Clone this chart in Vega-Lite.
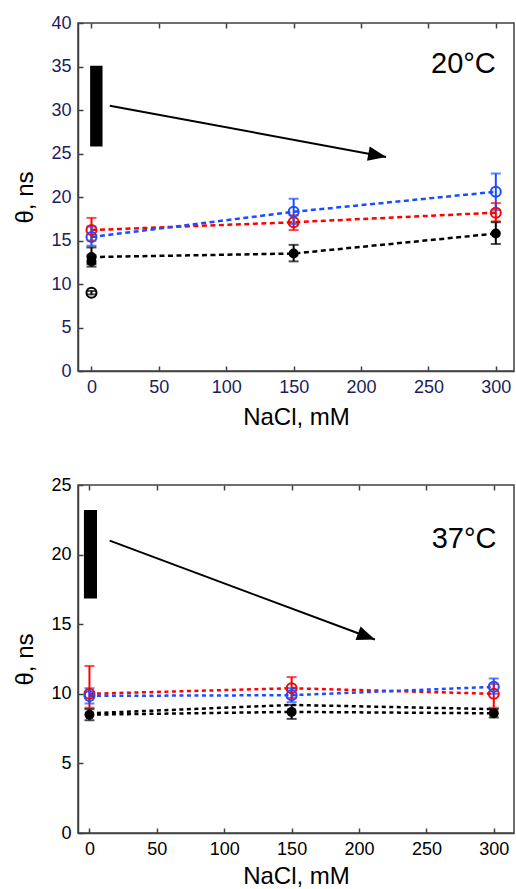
{
  "$schema": "https://vega.github.io/schema/vega-lite/v6.json",
  "padding": {"left": 13, "top": 13, "right": 0, "bottom": 0},
  "background": "white",
  "spacing": 45,
  "config": {
    "font": "Liberation Sans",
    "view": {"stroke": "#404040", "strokeWidth": 1.5},
    "axis": {
      "grid": false, "domainColor": "#404040", "domainWidth": 1.5,
      "tickColor": "#404040", "tickWidth": 1.5, "tickSize": -5,
      "labelFontSize": 18, "labelFont": "Liberation Sans",
      "titleFontSize": 24, "titleFont": "Liberation Sans", "titleFontWeight": "normal", "titleColor": "black"
    }
  },
  "datasets": {
    "top": [
      {"series": "red", "x": 0, "y": 16.2, "lo": 15.0, "hi": 17.6, "line": true, "marker": "open"},
      {"series": "red", "x": 150, "y": 17.1, "lo": 16.2, "hi": 17.9, "line": true, "marker": "open"},
      {"series": "red", "x": 300, "y": 18.2, "lo": 17.2, "hi": 19.3, "line": true, "marker": "open"},
      {"series": "blue", "x": 0, "y": 15.4, "lo": 14.4, "hi": 16.6, "line": true, "marker": "open"},
      {"series": "blue", "x": 150, "y": 18.3, "lo": 16.9, "hi": 19.8, "line": true, "marker": "open"},
      {"series": "blue", "x": 300, "y": 20.6, "lo": 18.5, "hi": 22.7, "line": true, "marker": "open"},
      {"series": "black", "x": 0, "y": 13.1, "lo": 12.3, "hi": 14.2, "line": true, "marker": "filled"},
      {"series": "black", "x": 150, "y": 13.5, "lo": 12.6, "hi": 14.5, "line": true, "marker": "filled"},
      {"series": "black", "x": 300, "y": 15.8, "lo": 14.6, "hi": 17.1, "line": true, "marker": "filled"},
      {"series": "black", "x": 0, "y": 12.6, "lo": 12.0, "hi": 13.3, "line": false, "marker": "filled"},
      {"series": "black", "x": 0, "y": 9.0, "lo": 8.8, "hi": 9.2, "line": false, "marker": "open"}
    ],
    "bottom": [
      {"series": "red", "x": 0, "y": 10.0, "lo": 9.0, "hi": 12.0, "line": true, "marker": "open"},
      {"series": "red", "x": 150, "y": 10.4, "lo": 9.7, "hi": 11.2, "line": true, "marker": "open"},
      {"series": "red", "x": 300, "y": 10.0, "lo": 9.0, "hi": 10.7, "line": true, "marker": "open"},
      {"series": "blue", "x": 0, "y": 9.85, "lo": 9.3, "hi": 10.4, "line": true, "marker": "open"},
      {"series": "blue", "x": 150, "y": 9.9, "lo": 9.4, "hi": 10.4, "line": true, "marker": "open"},
      {"series": "blue", "x": 300, "y": 10.5, "lo": 10.0, "hi": 11.1, "line": true, "marker": "open"},
      {"series": "black", "x": 0, "y": 8.5, "lo": 8.1, "hi": 8.9, "line": true, "marker": "filled"},
      {"series": "black", "x": 150, "y": 8.7, "lo": 8.2, "hi": 9.2, "line": true, "marker": "filled"},
      {"series": "black", "x": 300, "y": 8.6, "lo": 8.3, "hi": 8.9, "line": true, "marker": "filled"},
      {"series": "black2", "x": 0, "y": 8.6, "lo": null, "hi": null, "line": true, "marker": "none"},
      {"series": "black2", "x": 150, "y": 9.2, "lo": null, "hi": null, "line": true, "marker": "none"},
      {"series": "black2", "x": 300, "y": 8.9, "lo": null, "hi": null, "line": true, "marker": "none"}
    ],
    "topBar": [{"x": -1, "x2": 8.2, "y": 25.8, "y2": 35.1}],
    "topArrow": [{"x": 13.6, "y": 30.5, "end": false}, {"x": 218.6, "y": 24.6, "end": true}],
    "topText": [{"x": 300, "y": 34.3, "label": "20°C"}],
    "bottomBar": [{"x": -4.1, "x2": 5.6, "y": 16.85, "y2": 23.2}],
    "bottomArrow": [{"x": 15.0, "y": 21.0, "end": false}, {"x": 211.8, "y": 13.9, "end": true}],
    "bottomText": [{"x": 302, "y": 20.5, "label": "37°C"}]
  },
  "vconcat": [
    {
      "width": 436, "height": 348,
      "resolve": {"axis": {"x": "independent"}},
      "layer": [
        {
          "layer": [
            {
              "data": {"name": "top"},
              "transform": [{"filter": "datum.line"}],
              "mark": {"type": "line", "strokeDash": [5, 3.5], "strokeWidth": 2.5},
              "encoding": {
                "x": {"field": "x", "type": "quantitative", "scale": {"domain": [-10, 313.5], "nice": false, "zero": false},
                  "axis": {"title": "NaCl, mM", "values": [0, 50, 100, 150, 200, 250, 300], "labelColor": "#1c1c5c", "labelPadding": 12, "titlePadding": 9}},
                "y": {"field": "y", "type": "quantitative", "scale": {"domain": [0, 40], "nice": false},
                  "axis": {"title": "θ, ns", "values": [0, 5, 10, 15, 20, 25, 30, 35, 40], "labelColor": "#1c1c5c", "labelPadding": 12, "titlePadding": 13}},
                "color": {"field": "series", "type": "nominal", "legend": null,
                  "scale": {"domain": ["red", "blue", "black", "black2"], "range": ["#ff0000", "#1a4dff", "#000000", "#000000"]}},
                "order": {"field": "x", "type": "quantitative"}
              }
            },
            {
              "data": {"name": "top"},
              "mark": {"type": "rule", "strokeWidth": 2},
              "encoding": {
                "x": {"field": "x", "type": "quantitative"},
                "y": {"field": "lo", "type": "quantitative"},
                "y2": {"field": "hi"},
                "color": {"field": "series", "type": "nominal", "legend": null}
              }
            },
            {
              "data": {"name": "top"},
              "mark": {"type": "tick", "orient": "horizontal", "size": 10, "thickness": 2},
              "encoding": {
                "x": {"field": "x", "type": "quantitative"},
                "y": {"field": "lo", "type": "quantitative"},
                "color": {"field": "series", "type": "nominal", "legend": null}
              }
            },
            {
              "data": {"name": "top"},
              "mark": {"type": "tick", "orient": "horizontal", "size": 10, "thickness": 2},
              "encoding": {
                "x": {"field": "x", "type": "quantitative"},
                "y": {"field": "hi", "type": "quantitative"},
                "color": {"field": "series", "type": "nominal", "legend": null}
              }
            },
            {
              "data": {"name": "top"},
              "transform": [{"filter": "datum.marker == 'open'"}],
              "mark": {"type": "point", "shape": "circle", "filled": false, "size": 100, "strokeWidth": 2, "opacity": 1},
              "encoding": {
                "x": {"field": "x", "type": "quantitative"},
                "y": {"field": "y", "type": "quantitative"},
                "color": {"field": "series", "type": "nominal", "legend": null}
              }
            },
            {
              "data": {"name": "top"},
              "transform": [{"filter": "datum.marker == 'filled'"}],
              "mark": {"type": "point", "shape": "circle", "filled": true, "size": 100, "opacity": 1},
              "encoding": {
                "x": {"field": "x", "type": "quantitative"},
                "y": {"field": "y", "type": "quantitative"},
                "color": {"field": "series", "type": "nominal", "legend": null}
              }
            },
            {
              "data": {"name": "topBar"},
              "mark": {"type": "rect", "color": "black"},
              "encoding": {
                "x": {"field": "x", "type": "quantitative"},
                "x2": {"field": "x2"},
                "y": {"field": "y", "type": "quantitative"},
                "y2": {"field": "y2"}
              }
            },
            {
              "data": {"name": "topArrow"},
              "mark": {"type": "line", "color": "black", "strokeWidth": 2},
              "encoding": {
                "x": {"field": "x", "type": "quantitative"},
                "y": {"field": "y", "type": "quantitative"}
              }
            },
            {
              "data": {"name": "topArrow"},
              "transform": [{"filter": "datum.end"}],
              "mark": {"type": "point", "shape": "M0,0L-2,-0.8L-2,0.8Z", "size": 324, "angle": 10.7, "filled": true, "color": "black", "opacity": 1},
              "encoding": {
                "x": {"field": "x", "type": "quantitative"},
                "y": {"field": "y", "type": "quantitative"}
              }
            }
          ]
        },
        {
          "data": {"name": "topText"},
          "mark": {"type": "text", "align": "right", "baseline": "alphabetic", "fontSize": 29, "font": "Liberation Sans", "color": "black"},
          "encoding": {
            "x": {"field": "x", "type": "quantitative", "axis": {"orient": "top", "labels": false, "domain": false, "title": null, "values": [0, 50, 100, 150, 200, 250, 300]}},
            "y": {"field": "y", "type": "quantitative"},
            "text": {"field": "label"}
          }
        }
      ]
    },
    {
      "width": 436, "height": 348,
      "resolve": {"axis": {"x": "independent"}},
      "layer": [
        {
          "layer": [
            {
              "data": {"name": "bottom"},
              "transform": [{"filter": "datum.line"}],
              "mark": {"type": "line", "strokeDash": [4, 3.5], "strokeWidth": 2.5},
              "encoding": {
                "x": {"field": "x", "type": "quantitative", "scale": {"domain": [-8.5, 315], "nice": false, "zero": false},
                  "axis": {"title": "NaCl, mM", "values": [0, 50, 100, 150, 200, 250, 300], "labelColor": "black", "labelPadding": 12, "titlePadding": 6}},
                "y": {"field": "y", "type": "quantitative", "scale": {"domain": [0, 25], "nice": false},
                  "axis": {"title": "θ, ns", "values": [0, 5, 10, 15, 20, 25], "labelColor": "black", "labelPadding": 12, "titlePadding": 13}},
                "color": {"field": "series", "type": "nominal", "legend": null,
                  "scale": {"domain": ["red", "blue", "black", "black2"], "range": ["#ff0000", "#1a4dff", "#000000", "#000000"]}},
                "detail": {"field": "series"},
                "order": {"field": "x", "type": "quantitative"}
              }
            },
            {
              "data": {"name": "bottom"},
              "transform": [{"filter": "datum.lo != null"}],
              "mark": {"type": "rule", "strokeWidth": 2},
              "encoding": {
                "x": {"field": "x", "type": "quantitative"},
                "y": {"field": "lo", "type": "quantitative"},
                "y2": {"field": "hi"},
                "color": {"field": "series", "type": "nominal", "legend": null}
              }
            },
            {
              "data": {"name": "bottom"},
              "transform": [{"filter": "datum.lo != null"}],
              "mark": {"type": "tick", "orient": "horizontal", "size": 10, "thickness": 2},
              "encoding": {
                "x": {"field": "x", "type": "quantitative"},
                "y": {"field": "lo", "type": "quantitative"},
                "color": {"field": "series", "type": "nominal", "legend": null}
              }
            },
            {
              "data": {"name": "bottom"},
              "transform": [{"filter": "datum.hi != null"}],
              "mark": {"type": "tick", "orient": "horizontal", "size": 10, "thickness": 2},
              "encoding": {
                "x": {"field": "x", "type": "quantitative"},
                "y": {"field": "hi", "type": "quantitative"},
                "color": {"field": "series", "type": "nominal", "legend": null}
              }
            },
            {
              "data": {"name": "bottom"},
              "transform": [{"filter": "datum.marker == 'open'"}],
              "mark": {"type": "point", "shape": "circle", "filled": false, "size": 100, "strokeWidth": 2, "opacity": 1},
              "encoding": {
                "x": {"field": "x", "type": "quantitative"},
                "y": {"field": "y", "type": "quantitative"},
                "color": {"field": "series", "type": "nominal", "legend": null}
              }
            },
            {
              "data": {"name": "bottom"},
              "transform": [{"filter": "datum.marker == 'filled'"}],
              "mark": {"type": "point", "shape": "circle", "filled": true, "size": 100, "opacity": 1},
              "encoding": {
                "x": {"field": "x", "type": "quantitative"},
                "y": {"field": "y", "type": "quantitative"},
                "color": {"field": "series", "type": "nominal", "legend": null}
              }
            },
            {
              "data": {"name": "bottomBar"},
              "mark": {"type": "rect", "color": "black"},
              "encoding": {
                "x": {"field": "x", "type": "quantitative"},
                "x2": {"field": "x2"},
                "y": {"field": "y", "type": "quantitative"},
                "y2": {"field": "y2"}
              }
            },
            {
              "data": {"name": "bottomArrow"},
              "mark": {"type": "line", "color": "black", "strokeWidth": 2},
              "encoding": {
                "x": {"field": "x", "type": "quantitative"},
                "y": {"field": "y", "type": "quantitative"}
              }
            },
            {
              "data": {"name": "bottomArrow"},
              "transform": [{"filter": "datum.end"}],
              "mark": {"type": "point", "shape": "M0,0L-2,-0.8L-2,0.8Z", "size": 324, "angle": 20.5, "filled": true, "color": "black", "opacity": 1},
              "encoding": {
                "x": {"field": "x", "type": "quantitative"},
                "y": {"field": "y", "type": "quantitative"}
              }
            }
          ]
        },
        {
          "data": {"name": "bottomText"},
          "mark": {"type": "text", "align": "right", "baseline": "alphabetic", "fontSize": 29, "font": "Liberation Sans", "color": "black"},
          "encoding": {
            "x": {"field": "x", "type": "quantitative", "axis": {"orient": "top", "labels": false, "domain": false, "title": null, "values": [0, 50, 100, 150, 200, 250, 300]}},
            "y": {"field": "y", "type": "quantitative"},
            "text": {"field": "label"}
          }
        }
      ]
    }
  ]
}
